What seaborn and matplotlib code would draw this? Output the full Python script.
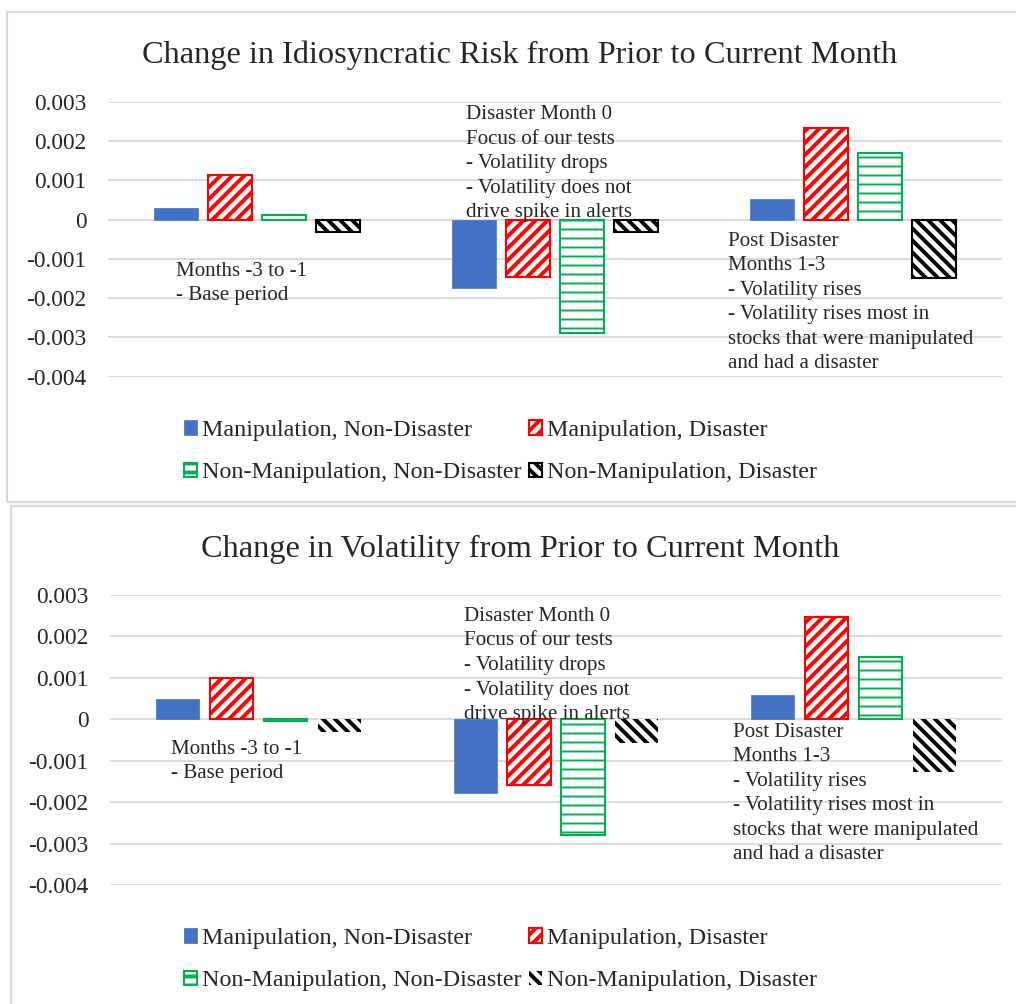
import numpy as np
import pandas as pd
import matplotlib
matplotlib.use("Agg")
import matplotlib.pyplot as plt
import matplotlib.patches as mpatches
import seaborn as sns

# ---- data ----
periods = ["Months -3 to -1", "Disaster Month 0", "Post Disaster Months 1-3"]
series = ["Manipulation, Non-Disaster", "Manipulation, Disaster",
          "Non-Manipulation, Non-Disaster", "Non-Manipulation, Disaster"]

# Change in idiosyncratic risk
idio_manip_nondis = [0.00030, -0.00175, 0.00052]
idio_manip_dis = [0.00113, -0.00147, 0.00234]
idio_nonmanip_nondis = [0.00011, -0.00288, 0.00171]
idio_nonmanip_dis = [-0.00030, -0.00030, -0.00148]

# Change in volatility
vol_manip_nondis = [0.00048, -0.00177, 0.00059]
vol_manip_dis = [0.00099, -0.00159, 0.00246]
vol_nonmanip_nondis = [-0.00004, -0.00280, 0.00150]
vol_nonmanip_dis = [-0.00031, -0.00057, -0.00128]

yticks = [0.003, 0.002, 0.001, 0.0, -0.001, -0.002, -0.003, -0.004]
ytick_labels = ["0.003", "0.002", "0.001", "0", "-0.001", "-0.002", "-0.003", "-0.004"]

note_base = ["Months -3 to -1", "- Base period"]
note_month0 = ["Disaster Month 0", "Focus of our tests", "- Volatility drops",
               "- Volatility does not", "drive spike in alerts"]
note_post = ["Post Disaster", "Months 1-3", "- Volatility rises",
             "- Volatility rises most in", "stocks that were manipulated",
             "and had a disaster"]

# ---- styling ----
W, H, DPI = 1017, 1004, 108   # dpi picked so the hatch spacing matches
SERIF = ["Liberation Serif", "DejaVu Serif"]


def pt(px):
    # pixel size -> points at the figure dpi
    return px * 72 / DPI


sns.set_style("white")
plt.rcParams["font.family"] = SERIF
plt.rcParams["axes.unicode_minus"] = False
plt.rcParams["hatch.linewidth"] = pt(3.9)

BLUE, RED, GREEN = "#4472C4", "#FF0000", "#00B050"
GRID = "#D9D9D9"

styles = {
    "Manipulation, Non-Disaster": dict(fc=BLUE, ec=BLUE, lw=pt(0.7), hatch=None),
    "Manipulation, Disaster": dict(fc="white", ec=RED, lw=pt(2.1), hatch="///"),
    "Non-Manipulation, Non-Disaster": dict(fc="white", ec=GREEN, lw=pt(2.1), hatch="--"),
    "Non-Manipulation, Disaster": dict(fc="white", ec="black", lw=pt(2.1), hatch="\\\\\\"),
}


def fx(px):
    return px / W


def fy(py):
    return 1 - py / H


def make_df(cols):
    rows = []
    for s, vals in zip(series, cols):
        for p, v in zip(periods, vals):
            rows.append({"period": p, "series": s, "value": v})
    return pd.DataFrame(rows)


def draw_panel(fig, box, cols, title, title_base, notes, legend_top, black_outline):
    left, top, right, bottom = box
    ax = fig.add_axes([fx(left), fy(bottom), fx(right - left), (bottom - top) / H])
    df = make_df(cols)
    sns.barplot(data=df, x="period", y="value", hue="series", order=periods,
                hue_order=series, width=0.725, gap=0.2, errorbar=None,
                saturation=1, legend=False, ax=ax)
    for s, cont in zip(series, ax.containers):
        st = styles[s]
        for bar in cont:
            bar.set_facecolor(st["fc"])
            bar.set_edgecolor(st["ec"])
            lw = st["lw"]
            if s == "Non-Manipulation, Disaster" and not black_outline:
                lw = 0
            bar.set_linewidth(lw)
            if st["hatch"]:
                bar.set_hatch(st["hatch"])
                if s == "Non-Manipulation, Non-Disaster" and hasattr(bar, "set_hatch_linewidth"):
                    bar.set_hatch_linewidth(pt(1.9))

    ax.set_xlim(-0.5, 2.5)
    ax.set_ylim(-0.004, 0.003)
    ax.set_yticks(yticks, ytick_labels)
    ax.set_xticks([])
    ax.set_xlabel("")
    ax.set_ylabel("")
    ax.yaxis.grid(True, color=GRID, lw=pt(1.8))
    ax.set_axisbelow(True)
    for sp in ax.spines.values():
        sp.set_visible(False)
    ax.tick_params(axis="y", length=0, pad=pt(21.5), labelsize=pt(23.4))

    fig.text(fx(520), fy(title_base), title, ha="center", va="baseline", fontsize=pt(32.4))

    for (x0, y0, dy), lines in notes:
        for i, line in enumerate(lines):
            fig.text(fx(x0), fy(y0 + i * dy), line, ha="left", va="baseline",
                     fontsize=pt(21))

    handles = []
    for s in series:
        st = styles[s]
        lw = st["lw"]
        if s == "Non-Manipulation, Disaster" and not black_outline:
            lw = 0
        handles.append(mpatches.Patch(facecolor=st["fc"], edgecolor=st["ec"],
                                      lw=lw, hatch=st["hatch"], label=s))
    order = [0, 2, 1, 3]
    fig.legend([handles[i] for i in order], [series[i] for i in order],
               loc="upper left", bbox_to_anchor=(fx(184), fy(legend_top)),
               ncol=2, frameon=False, fontsize=pt(24), borderpad=0, borderaxespad=0,
               handlelength=0.55, handleheight=0.55, handletextpad=0.2,
               columnspacing=0.3, labelspacing=0.89)
    return ax


fig = plt.figure(figsize=(W / DPI, H / DPI), dpi=DPI)

# panel frames
fig.add_artist(mpatches.Rectangle((fx(7.5), fy(502)), fx(1040), (502 - 12) / H,
                                  transform=fig.transFigure, fill=False,
                                  ec=GRID, lw=pt(2.1), clip_on=False))
fig.add_artist(mpatches.Rectangle((fx(11), fy(1040)), fx(1040), (1040 - 505.5) / H,
                                  transform=fig.transFigure, fill=False,
                                  ec=GRID, lw=pt(2.1), clip_on=False))

draw_panel(fig, (108, 102, 1002, 376.7),
           [idio_manip_nondis, idio_manip_dis, idio_nonmanip_nondis, idio_nonmanip_dis],
           "Change in Idiosyncratic Risk from Prior to Current Month", 62.7,
           [((175.7, 275.7, 24.3), note_base),
            ((466, 119, 24.6), note_month0),
            ((728.3, 246, 24.5), note_post)],
           420, True)

draw_panel(fig, (110, 595, 1002, 885),
           [vol_manip_nondis, vol_manip_dis, vol_nonmanip_nondis, vol_nonmanip_dis],
           "Change in Volatility from Prior to Current Month", 557,
           [((171, 754, 24.3), note_base),
            ((464, 620.7, 24.6), note_month0),
            ((733.3, 736.7, 24.5), note_post)],
           928, False)

fig.savefig("out.png", dpi=DPI)
